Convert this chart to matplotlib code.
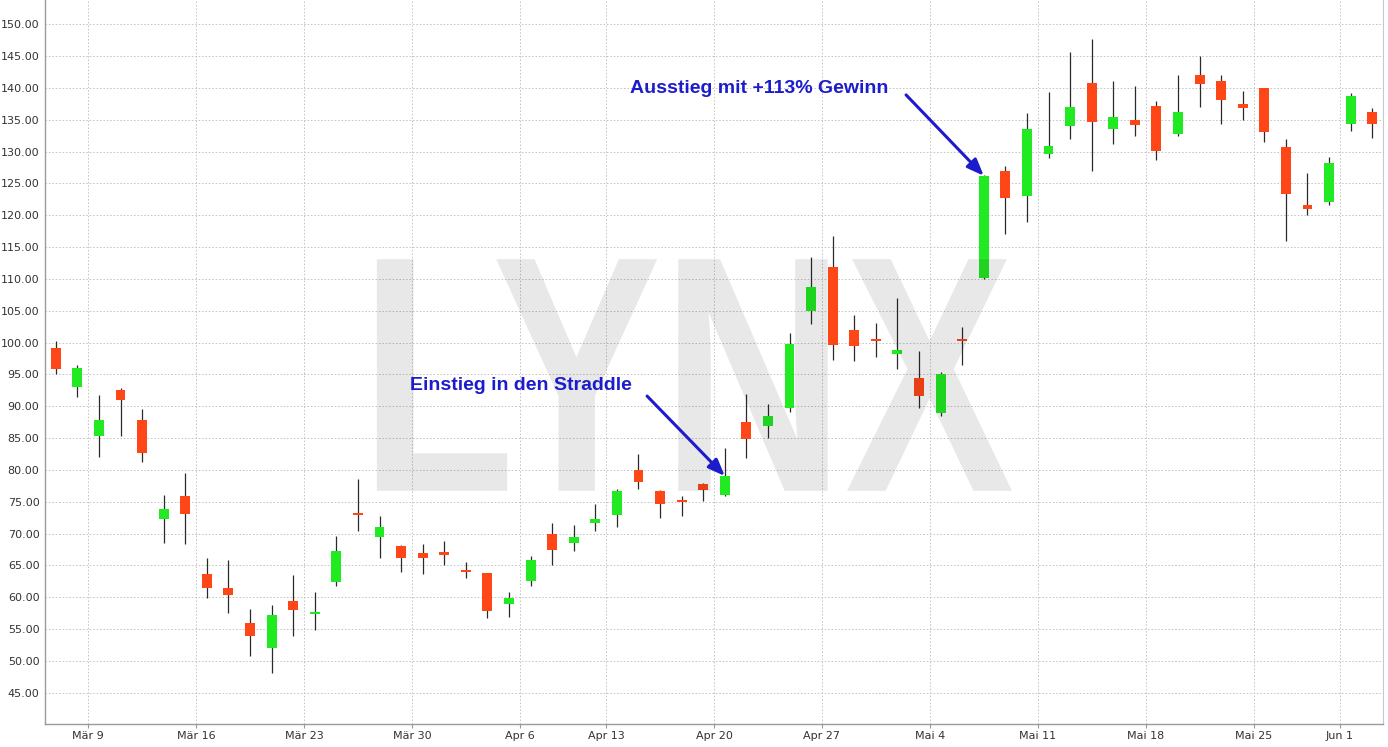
import matplotlib
matplotlib.use("Agg")
import matplotlib.pyplot as plt
import numpy as np
from matplotlib.textpath import TextPath
from matplotlib.patches import PathPatch
from matplotlib.font_manager import FontProperties
from matplotlib.transforms import Affine2D

# ---------------- data ----------------
dates = ["03-05", "03-06",
         "03-09", "03-10", "03-11", "03-12", "03-13",
         "03-16", "03-17", "03-18", "03-19", "03-20",
         "03-23", "03-24", "03-25", "03-26", "03-27",
         "03-30", "03-31", "04-01", "04-02", "04-03",
         "04-06", "04-07", "04-08", "04-09",
         "04-13", "04-14", "04-15", "04-16", "04-17",
         "04-20", "04-21", "04-22", "04-23", "04-24",
         "04-27", "04-28", "04-29", "04-30", "05-01",
         "05-04", "05-05", "05-06", "05-07", "05-08",
         "05-11", "05-12", "05-13", "05-14", "05-15",
         "05-18", "05-19", "05-20", "05-21", "05-22",
         "05-26", "05-27", "05-28", "05-29",
         "06-01", "06-02"]

opens = [99.1, 93.0, 85.4, 92.55, 87.8, 72.35, 75.97, 63.6, 61.5, 56.0,
         52.0, 59.4, 57.3, 62.4, 73.1, 69.4, 68.07, 67.0, 67.1, 64.2,
         63.8, 59.0, 62.6, 69.9, 68.5, 71.7, 73.0, 80.0, 76.7, 75.3,
         77.8, 76.1, 87.5, 86.95, 89.8, 105.0, 111.9, 102.0, 100.5, 98.2,
         94.4, 89.0, 100.4, 110.2, 126.9, 123.0, 129.55, 134.0, 140.7, 133.6,
         135.0, 137.1, 132.7, 142.05, 141.05, 137.4, 140.0, 130.7, 121.6, 122.1,
         134.4, 136.2]
highs = [100.25, 96.5, 91.7, 92.9, 89.5, 76.1, 79.5, 66.2, 65.9, 58.2,
         58.8, 63.5, 60.8, 69.7, 78.5, 72.8, 68.2, 68.4, 68.85, 65.6,
         63.8, 60.8, 66.5, 71.7, 71.3, 74.6, 77.0, 82.5, 76.9, 75.9,
         78.0, 83.5, 91.9, 90.3, 101.45, 113.5, 116.7, 104.4, 103.0, 106.95,
         98.7, 95.4, 102.5, 126.3, 127.8, 136.1, 139.3, 145.6, 147.6, 141.05,
         140.3, 137.9, 142.0, 145.0, 142.0, 139.5, 140.0, 132.0, 126.7, 129.2,
         139.2, 136.8]
lows = [95.0, 91.5, 82.0, 85.4, 81.25, 68.6, 68.3, 59.9, 57.6, 50.8,
        48.1, 53.9, 54.9, 61.85, 70.4, 66.2, 64.0, 63.6, 65.1, 63.0,
        56.8, 56.9, 61.85, 65.1, 67.3, 70.4, 71.1, 77.0, 72.4, 72.7,
        75.1, 75.9, 81.9, 85.0, 89.05, 102.9, 97.3, 97.15, 97.8, 95.85,
        89.8, 88.4, 96.5, 110.0, 117.0, 118.9, 129.0, 131.9, 127.0, 131.2,
        132.5, 128.65, 132.5, 137.0, 134.4, 135.0, 131.5, 115.9, 120.0, 121.55,
        133.25, 132.2]
closes = [95.85, 96.0, 87.8, 91.0, 82.6, 73.9, 73.05, 61.5, 60.3, 53.9,
          57.25, 58.0, 57.4, 67.3, 72.9, 71.05, 66.1, 66.1, 66.6, 63.9,
          57.9, 59.85, 65.9, 67.45, 69.4, 72.3, 76.7, 78.1, 74.7, 74.9,
          76.8, 79.05, 84.9, 88.4, 99.7, 108.7, 99.6, 99.5, 100.3, 98.9,
          91.6, 95.06, 100.2, 126.2, 122.75, 133.6, 130.85, 137.0, 134.6, 135.45,
          134.15, 130.1, 136.2, 140.6, 138.1, 136.9, 133.0, 123.3, 120.9, 128.2,
          138.7, 134.3]

week_labels = ["Mär 9", "Mär 16", "Mär 23", "Mär 30", "Apr 6", "Apr 13", "Apr 20",
               "Apr 27", "Mai 4", "Mai 11", "Mai 18", "Mai 25", "Jun 1"]
week_first_day = ["03-09", "03-16", "03-23", "03-30", "04-06", "04-13", "04-20",
                  "04-27", "05-04", "05-11", "05-18", "05-26", "06-01"]

y_ticks = [45, 50, 55, 60, 65, 70, 75, 80, 85, 90, 95, 100, 105, 110, 115,
           120, 125, 130, 135, 140, 145, 150]

entry_label = "Einstieg in den Straddle"
exit_label = "Ausstieg mit +113% Gewinn"
entry_day = "04-20"
exit_day = "05-06"

# ---------------- figure ----------------
W, H = 1388, 747
fig = plt.figure(figsize=(W / 100, H / 100), dpi=100)
ax = fig.add_axes([45 / W, 23 / H, (1383 - 45) / W, 724 / H])

x = np.arange(len(dates))
o = np.array(opens); c = np.array(closes)
hi = np.array(highs); lo = np.array(lows)

RED = "#ff4616"
GREEN = "#22ea22"
up = c >= o
colors = np.where(up, GREEN, RED)

ax.vlines(x, lo, hi, color="#2a2a2a", lw=0.9, zorder=3)
body_bottom = np.minimum(o, c)
body_h = np.maximum(np.abs(c - o), 0.32)
ax.bar(x, body_h, bottom=body_bottom, width=0.46, color=colors,
       edgecolor="none", zorder=4)

ax.set_xlim(-0.5, len(dates) - 0.5)
ax.set_ylim(40.1, 153.8)

tick_pos = [dates.index(d) - 0.5 for d in week_first_day]
ax.set_xticks(tick_pos)
ax.set_xticklabels(week_labels)
ax.set_yticks(y_ticks)
ax.set_yticklabels([f"{v:.2f}" for v in y_ticks])

ax.tick_params(axis="x", length=3, width=0.8, color="#999999", pad=2,
               labelsize=8, labelcolor="#333333")
ax.tick_params(axis="y", length=0, pad=4, labelsize=8, labelcolor="#333333")
for lab in ax.get_xticklabels() + ax.get_yticklabels():
    lab.set_fontfamily("DejaVu Sans")

ax.grid(True, color="#c4c4c4", lw=0.7, linestyle=(0, (1.6, 1.9)), zorder=1)
ax.set_axisbelow(True)
ax.spines["top"].set_visible(False)
for s in ["left", "bottom"]:
    ax.spines[s].set_color("#9a9a9a")
    ax.spines[s].set_linewidth(1.0)
ax.spines["right"].set_color("#c8c8c8")
ax.spines["right"].set_linewidth(0.8)

# ---------------- LYNX watermark ----------------
fp = FontProperties(family="Liberation Sans", weight="bold")
tp = TextPath((0, 0), "LYNX", size=100, prop=fp)
ext = tp.get_extents()
bx0, by0, bw, bh = ext.x0, ext.y0, ext.width, ext.height
X0, X1, Y0, Y1 = 0.248, 0.7227, 0.322, 0.642
tr = (Affine2D().translate(-bx0, -by0).scale((X1 - X0) / bw, (Y1 - Y0) / bh)
      .translate(X0, Y0) + ax.transAxes)
ax.add_patch(PathPatch(tp, transform=tr, facecolor="black", alpha=0.09,
                       edgecolor="none", zorder=6))

# ---------------- annotations ----------------
BLUE = "#1c1ccc"
ie = dates.index(entry_day)
ix = dates.index(exit_day)
ax.text(16.4, 93.3, entry_label, color=BLUE, fontsize=14, fontweight="heavy",
        family="Liberation Sans", ha="left", va="center", zorder=7)
ax.annotate("", xy=(ie, closes[ie]), xytext=(27.4, 91.6),
            arrowprops=dict(arrowstyle="-|>,head_length=1.0,head_width=0.4",
                            color=BLUE, lw=2.2, shrinkA=0, shrinkB=0), zorder=7)
ax.text(26.6, 139.95, exit_label, color=BLUE, fontsize=14, fontweight="heavy",
        family="Liberation Sans", ha="left", va="center", zorder=7)
ax.annotate("", xy=(ix, closes[ix]), xytext=(39.4, 138.9),
            arrowprops=dict(arrowstyle="-|>,head_length=1.0,head_width=0.4",
                            color=BLUE, lw=2.2, shrinkA=0, shrinkB=0), zorder=7)

fig.savefig("out.png", dpi=100, facecolor="white")
